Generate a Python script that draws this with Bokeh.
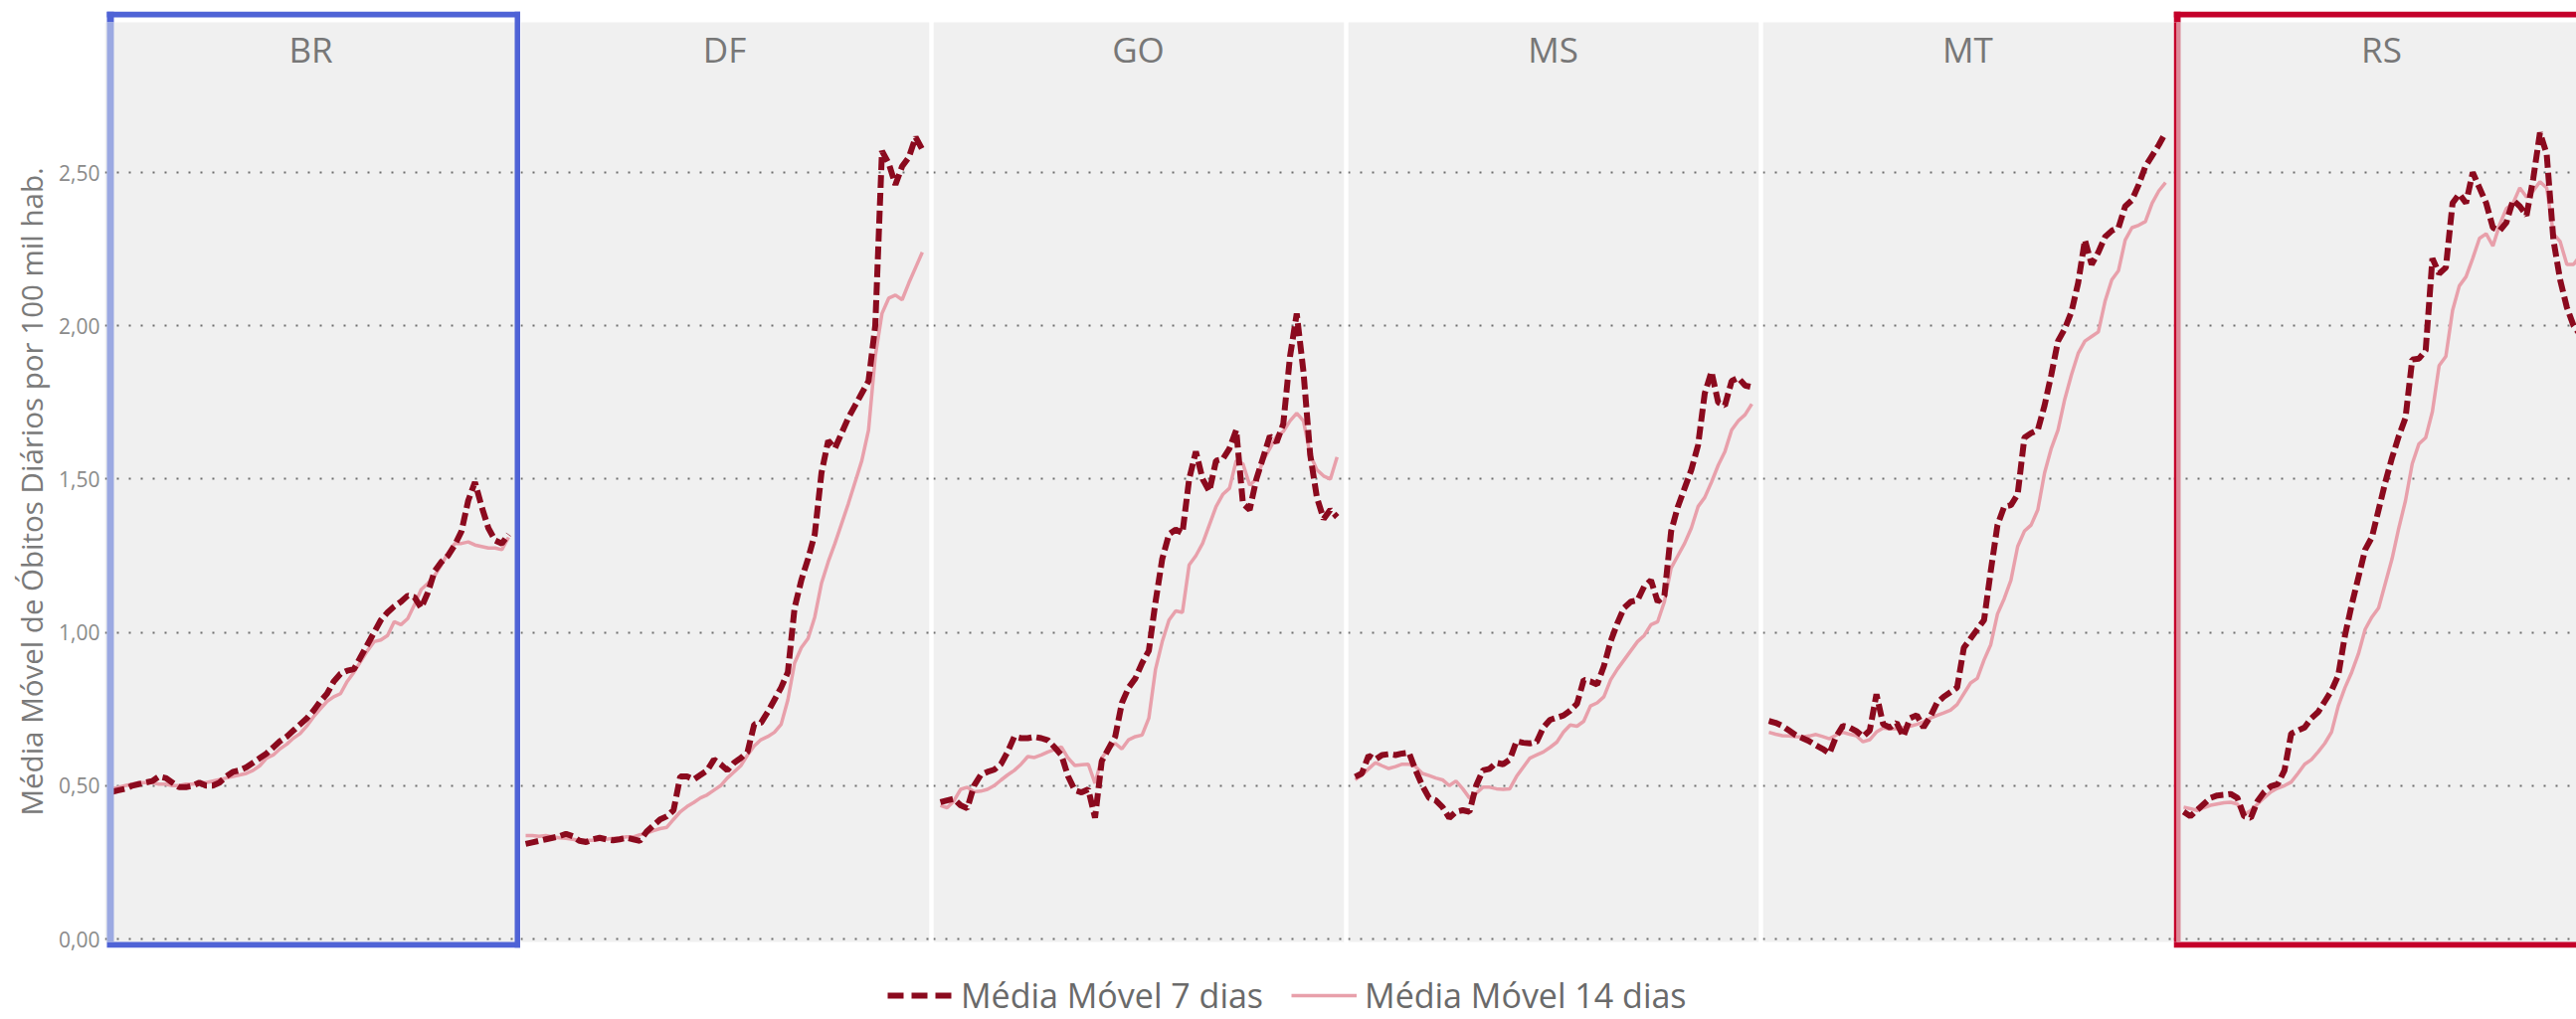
from bokeh.plotting import figure
from bokeh.layouts import row, column
from bokeh.models import (Range1d, FixedTicker, CustomJSTickFormatter, BoxAnnotation,
                          Label, Legend, LegendItem, Title)
from bokeh.embed import file_html
from bokeh.resources import INLINE

# ---------------- data ----------------
estados = ["BR", "DF", "GO", "MS", "MT", "RS"]
dias = list(range(60))

mm7_BR = [0.48, 0.485, 0.49, 0.50, 0.505, 0.51, 0.515, 0.53, 0.525, 0.51, 0.495, 0.495, 0.50, 0.51, 0.50,
          0.50, 0.51, 0.53, 0.545, 0.55, 0.56, 0.575, 0.59, 0.605, 0.625, 0.645, 0.66, 0.68, 0.70, 0.72,
          0.745, 0.775, 0.80, 0.84, 0.865, 0.875, 0.88, 0.92, 0.96, 1.00, 1.04, 1.065, 1.085, 1.10, 1.12,
          1.115, 1.08, 1.13, 1.20, 1.23, 1.25, 1.285, 1.33, 1.43, 1.49, 1.41, 1.34, 1.30, 1.29, 1.32]
mm14_BR = [0.49, 0.495, 0.50, 0.505, 0.51, 0.51, 0.51, 0.505, 0.505, 0.50, 0.50, 0.505, 0.505, 0.51, 0.51,
           0.515, 0.52, 0.525, 0.53, 0.535, 0.54, 0.55, 0.565, 0.59, 0.60, 0.62, 0.635, 0.655, 0.67, 0.695,
           0.725, 0.75, 0.775, 0.79, 0.80, 0.84, 0.87, 0.905, 0.94, 0.97, 0.975, 0.99, 1.035, 1.025, 1.045,
           1.09, 1.14, 1.16, 1.185, 1.22, 1.26, 1.29, 1.29, 1.295, 1.285, 1.28, 1.275, 1.275, 1.27, 1.31]

mm7_DF = [0.31, 0.315, 0.32, 0.325, 0.33, 0.335, 0.343, 0.335, 0.32, 0.316, 0.325, 0.33, 0.325, 0.322, 0.325,
          0.33, 0.325, 0.32, 0.35, 0.37, 0.39, 0.40, 0.42, 0.53, 0.53, 0.52, 0.535, 0.55, 0.585, 0.57,
          0.55, 0.575, 0.59, 0.61, 0.70, 0.705, 0.74, 0.78, 0.82, 0.87, 1.08, 1.17, 1.24, 1.32, 1.52,
          1.625, 1.60, 1.65, 1.70, 1.74, 1.78, 1.82, 2.00, 2.57, 2.53, 2.46, 2.52, 2.55, 2.615, 2.575]
mm14_DF = [0.337, 0.337, 0.335, 0.337, 0.333, 0.33, 0.328, 0.325, 0.322, 0.322, 0.322, 0.325, 0.325, 0.328, 0.33,
           0.333, 0.333, 0.34, 0.345, 0.353, 0.36, 0.364, 0.39, 0.415, 0.432, 0.445, 0.46, 0.47, 0.485, 0.50,
           0.525, 0.545, 0.565, 0.60, 0.63, 0.65, 0.66, 0.674, 0.70, 0.78, 0.90, 0.95, 0.98, 1.05, 1.16,
           1.23, 1.29, 1.355, 1.42, 1.49, 1.56, 1.66, 1.90, 2.04, 2.09, 2.10, 2.085, 2.14, 2.19, 2.24]

mm7_GO = [0.446, 0.452, 0.457, 0.436, 0.426, 0.50, 0.535, 0.545, 0.552, 0.57, 0.61, 0.66, 0.655, 0.655, 0.659,
          0.655, 0.648, 0.625, 0.60, 0.53, 0.485, 0.478, 0.488, 0.395, 0.58, 0.62, 0.66, 0.77, 0.82, 0.85,
          0.90, 0.94, 1.10, 1.24, 1.32, 1.335, 1.324, 1.50, 1.59, 1.50, 1.46, 1.56, 1.565, 1.60, 1.66,
          1.42, 1.40, 1.50, 1.57, 1.64, 1.62, 1.68, 1.90, 2.04, 1.85, 1.58, 1.44, 1.37, 1.40, 1.376]
mm14_GO = [0.436, 0.428, 0.45, 0.488, 0.495, 0.48, 0.482, 0.488, 0.50, 0.518, 0.535, 0.55, 0.57, 0.595, 0.592,
           0.60, 0.61, 0.618, 0.626, 0.59, 0.566, 0.568, 0.57, 0.508, 0.59, 0.62, 0.638, 0.62, 0.65, 0.66,
           0.665, 0.72, 0.88, 0.97, 1.04, 1.07, 1.065, 1.22, 1.25, 1.29, 1.35, 1.41, 1.45, 1.47, 1.56,
           1.55, 1.48, 1.50, 1.56, 1.60, 1.64, 1.655, 1.69, 1.715, 1.69, 1.58, 1.53, 1.51, 1.50, 1.572]

mm7_MS = [0.529, 0.54, 0.598, 0.585, 0.60, 0.603, 0.60, 0.605, 0.608, 0.55, 0.50, 0.46, 0.452, 0.43, 0.395,
          0.415, 0.42, 0.415, 0.50, 0.55, 0.555, 0.575, 0.57, 0.585, 0.645, 0.64, 0.638, 0.643, 0.69, 0.715,
          0.722, 0.729, 0.745, 0.767, 0.845, 0.84, 0.83, 0.89, 0.97, 1.03, 1.08, 1.10, 1.105, 1.15, 1.17,
          1.10, 1.12, 1.33, 1.41, 1.47, 1.53, 1.61, 1.78, 1.85, 1.75, 1.74, 1.82, 1.83, 1.805, 1.80]
mm14_MS = [0.519, 0.535, 0.555, 0.575, 0.565, 0.556, 0.562, 0.57, 0.57, 0.562, 0.54, 0.533, 0.525, 0.519, 0.50,
           0.515, 0.49, 0.46, 0.475, 0.495, 0.495, 0.49, 0.488, 0.49, 0.53, 0.56, 0.59, 0.60, 0.61, 0.625,
           0.642, 0.675, 0.698, 0.694, 0.71, 0.76, 0.77, 0.79, 0.845, 0.88, 0.91, 0.94, 0.97, 0.99, 1.025,
           1.035, 1.10, 1.21, 1.25, 1.29, 1.34, 1.41, 1.44, 1.49, 1.545, 1.59, 1.66, 1.69, 1.71, 1.745]

mm7_MT = [0.711, 0.705, 0.695, 0.68, 0.665, 0.655, 0.645, 0.632, 0.62, 0.605, 0.66, 0.695, 0.69, 0.678, 0.66,
          0.68, 0.798, 0.70, 0.69, 0.705, 0.66, 0.72, 0.73, 0.69, 0.725, 0.77, 0.79, 0.805, 0.82, 0.95,
          0.98, 1.01, 1.04, 1.20, 1.35, 1.41, 1.415, 1.45, 1.635, 1.65, 1.66, 1.74, 1.84, 1.95, 1.99,
          2.045, 2.14, 2.28, 2.20, 2.24, 2.29, 2.31, 2.32, 2.39, 2.41, 2.46, 2.52, 2.555, 2.59, 2.63]
mm14_MT = [0.674, 0.668, 0.663, 0.662, 0.66, 0.659, 0.662, 0.667, 0.66, 0.653, 0.665, 0.674, 0.668, 0.663, 0.643,
           0.65, 0.675, 0.688, 0.685, 0.686, 0.69, 0.694, 0.70, 0.708, 0.72, 0.729, 0.737, 0.746, 0.765, 0.80,
           0.835, 0.85, 0.91, 0.96, 1.06, 1.11, 1.17, 1.28, 1.33, 1.35, 1.40, 1.52, 1.60, 1.66, 1.76,
           1.84, 1.91, 1.95, 1.965, 1.98, 2.08, 2.15, 2.18, 2.28, 2.32, 2.328, 2.34, 2.40, 2.44, 2.467]

mm7_RS = [0.415, 0.40, 0.42, 0.44, 0.46, 0.468, 0.47, 0.473, 0.46, 0.40, 0.395, 0.45, 0.48, 0.498, 0.505,
          0.55, 0.67, 0.68, 0.69, 0.72, 0.74, 0.775, 0.81, 0.86, 0.99, 1.09, 1.18, 1.27, 1.31, 1.40,
          1.49, 1.57, 1.64, 1.70, 1.89, 1.893, 1.92, 2.22, 2.17, 2.19, 2.40, 2.43, 2.40, 2.50, 2.45,
          2.40, 2.32, 2.31, 2.337, 2.41, 2.39, 2.36, 2.48, 2.63, 2.56, 2.28, 2.15, 2.06, 2.00, 1.97]
mm14_RS = [0.43, 0.425, 0.419, 0.428, 0.436, 0.44, 0.444, 0.446, 0.44, 0.405, 0.419, 0.44, 0.461, 0.48, 0.492,
           0.50, 0.512, 0.54, 0.57, 0.585, 0.61, 0.638, 0.675, 0.76, 0.82, 0.87, 0.93, 1.01, 1.05, 1.08,
           1.16, 1.24, 1.34, 1.43, 1.55, 1.615, 1.635, 1.72, 1.87, 1.90, 2.05, 2.13, 2.16, 2.22, 2.285,
           2.30, 2.26, 2.33, 2.382, 2.40, 2.45, 2.42, 2.44, 2.47, 2.45, 2.30, 2.275, 2.20, 2.20, 2.23]

tick_values = [0.0, 0.5, 1.0, 1.5, 2.0, 2.5]
tick_labels = ["0,00", "0,50", "1,00", "1,50", "2,00", "2,50"]
titulo_y = "Média Móvel de Óbitos Diários por 100 mil hab."
legenda = ["Média Móvel 7 dias", "Média Móvel 14 dias"]

mm7 = {"BR": mm7_BR, "DF": mm7_DF, "GO": mm7_GO, "MS": mm7_MS, "MT": mm7_MT, "RS": mm7_RS}
mm14 = {"BR": mm14_BR, "DF": mm14_DF, "GO": mm14_GO, "MS": mm14_MS, "MT": mm14_MT, "RS": mm14_RS}

# ---------------- geometry (screen px) ----------------
OFF = 0
Y0_PX, Y25_PX = 944, 173
PPU = (Y0_PX - Y25_PX) / 2.5
FRAME_TOP, FRAME_BOT = 11, 953
PANEL_TOP, PANEL_BOT = 22, 947
ROW_BOTTOM = 960
PAGE_BOTTOM = 1025
STEP = 6.76
# frame left, frame right, figure right, first point, title centre
geo = {
    "BR": (105, 523, 523, 112, 312),
    "DF": (523, 934, 938, 528, 728),
    "GO": (938, 1351, 1355, 945, 1144),
    "MS": (1355, 1768, 1772, 1362, 1561),
    "MT": (1772, 2185, 2185, 1778, 1978),
    "RS": (2185, 2590, 2590, 2195, 2394),
}
borders = {"BR": ("#4F63D6", "#9BA9E2", 107, 114, 523),
           "RS": ("#C4002A", "#DC8C9A", 2185, 2192, 2590)}
YLABEL_BOTTOM = 820

C7 = "#8B0A1E"
C14 = "#E8A0AB"
GRAY_PANEL = "#F0F0F0"
FONT = "Open Sans"


def yd(py):
    return (Y0_PX - py) / PPU


def make_panel(k, name):
    fl, fr, gr, dl, tc = geo[name]
    left = OFF if k == 0 else geo[estados[k - 1]][2]

    def xd(px):
        return (px - dl) / STEP

    p = figure(width=gr - left, height=ROW_BOTTOM - OFF, output_backend="svg",
               toolbar_location=None,
               x_range=Range1d(xd(fl), xd(fr)),
               y_range=Range1d(yd(FRAME_BOT), yd(FRAME_TOP)),
               x_axis_location=None,
               y_axis_location="left" if k == 0 else None,
               min_border_left=fl - left, min_border_right=gr - fr,
               min_border_top=FRAME_TOP - OFF, min_border_bottom=ROW_BOTTOM - FRAME_BOT)
    p.outline_line_color = None
    p.background_fill_color = "white"
    p.border_fill_color = "white"

    p.add_layout(BoxAnnotation(bottom=yd(PANEL_BOT), top=yd(PANEL_TOP), fill_color=GRAY_PANEL,
                               fill_alpha=1, line_color=None, level="image"))

    p.xgrid.visible = False
    p.ygrid.ticker = FixedTicker(ticks=tick_values)
    p.ygrid.grid_line_color = "#6E6E6E"
    p.ygrid.grid_line_width = 2
    p.ygrid.grid_line_dash = "2 10"

    if k == 0:
        ax = p.yaxis[0]
        ax.ticker = FixedTicker(ticks=tick_values)
        ax.formatter = CustomJSTickFormatter(
            args=dict(vals=tick_values, labels=tick_labels),
            code="const i = vals.indexOf(tick); return i < 0 ? '' : labels[i];")
        ax.axis_line_color = None
        ax.major_tick_line_color = None
        ax.minor_tick_line_color = None
        ax.major_tick_in = 0
        ax.major_tick_out = 0
        ax.minor_tick_in = 0
        ax.minor_tick_out = 0
        ax.major_label_standoff = 5
        ax.major_label_text_font = FONT
        ax.major_label_text_font_size = "21px"
        ax.major_label_text_color = "#8A8A8A"
        p.add_layout(Title(text=titulo_y, align="left", offset=FRAME_BOT - YLABEL_BOTTOM,
                           text_font=FONT, text_font_size="29.5px", text_font_style="normal",
                           text_color="#7A7A7A", standoff=10), "left")

    p.line(dias, mm14[name], line_color=C14, line_width=3.5)
    p.line(dias, mm7[name], line_color=C7, line_width=6, line_dash="13 5")

    p.add_layout(Label(x=xd(tc), y=yd(49), text=name, text_align="center",
                       text_baseline="middle", text_font=FONT, text_font_size="35px",
                       text_color="#777777"))

    if name in borders:
        solid, light, bl, bx, br = borders[name]

        def box(l, r, t, b, color):
            p.add_layout(BoxAnnotation(left=xd(l), right=xd(r), top=yd(t), bottom=yd(b),
                                       fill_color=color, fill_alpha=1, line_color=None,
                                       level="annotation"))
        box(bl, br, FRAME_TOP, FRAME_TOP + 6, solid)           # top
        box(bl, br, FRAME_BOT - 6, FRAME_BOT, solid)           # bottom
        box(bl, bx, FRAME_TOP, PANEL_TOP, solid)               # left (upper solid)
        if name == "RS":
            box(bl, bl + 3, PANEL_TOP, FRAME_BOT - 6, solid)
            box(bl + 3, bx, PANEL_TOP, FRAME_BOT - 6, light)
        else:
            box(bl, bx, PANEL_TOP, FRAME_BOT - 6, light)
        if name == "BR":
            box(517, 523, FRAME_TOP, FRAME_BOT, solid)         # right
    return p


panels = [make_panel(k, n) for k, n in enumerate(estados)]
total_w = sum(p.width for p in panels)

lg = figure(width=total_w, height=PAGE_BOTTOM - ROW_BOTTOM, output_backend="svg",
            toolbar_location=None, x_range=Range1d(0, 1), y_range=Range1d(0, 1),
            x_axis_location=None, y_axis_location=None, min_border=0)
lg.outline_line_color = None
lg.grid.visible = False
# legend-only renderers, placed outside the visible range
r7 = lg.line([-2, -1], [-2, -2], line_color=C7, line_width=6, line_dash="16 8")
r14 = lg.line([-2, -1], [-2, -2], line_color=C14, line_width=3.5)
leg = Legend(items=[LegendItem(label=legenda[0], renderers=[r7]),
                    LegendItem(label=legenda[1], renderers=[r14])],
             orientation="horizontal", location=(892 - OFF, 1),
             glyph_width=66, glyph_height=20, label_standoff=8, spacing=28,
             padding=0, margin=0, border_line_color=None, background_fill_alpha=0,
             label_text_font=FONT, label_text_font_size="34px", label_text_color="#6A6A6A")
lg.add_layout(leg)

layout = column(row(*panels), lg)

open("out.html", "w").write(file_html(layout, INLINE))
